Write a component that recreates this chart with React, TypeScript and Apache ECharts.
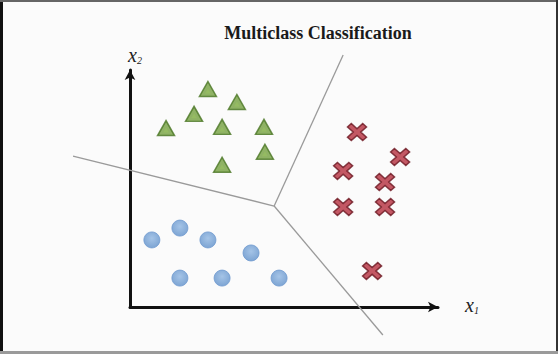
import React, { useEffect, useRef } from "react";
import * as echarts from "echarts";

// Class A (green triangles): [x1, x2]
const classTriangles: number[][] = [
  [2.53, 9.2],
  [3.47, 8.65],
  [2.08, 8.15],
  [1.17, 7.55],
  [2.99, 7.6],
  [4.35, 7.6],
  [4.38, 6.55],
  [2.99, 6.0],
];
// Class B (red crosses)
const classCrosses: number[][] = [
  [7.37, 7.38],
  [8.77, 6.33],
  [6.92, 5.74],
  [8.28, 5.27],
  [6.92, 4.22],
  [8.28, 4.22],
  [7.86, 1.52],
];
// Class C (blue circles)
const classCircles: number[][] = [
  [0.71, 2.83],
  [1.62, 3.33],
  [2.53, 2.83],
  [3.93, 2.28],
  [1.62, 1.22],
  [2.99, 1.22],
  [4.84, 1.22],
];
// Decision boundaries meeting at a junction
const junction: number[] = [4.68, 4.26];
const boundaryEnds: number[][] = [
  [-1.85, 6.37],
  [6.92, 10.63],
  [8.21, -1.18],
];

const titleText = "Multiclass Classification";
const xName = "{v|x}{s|1}";
const yName = "{v|x}{s|2}";

const crossPath =
  "path://M2,0 L5,3 L8,0 L10,2 L7,5 L10,8 L8,10 L5,7 L2,10 L0,8 L3,5 L0,2 Z";

export default function App() {
  const ref = useRef<HTMLDivElement>(null);
  useEffect(() => {
    document.body.style.margin = "0";
    if (!ref.current) return;
    const chart = echarts.init(ref.current, undefined, { renderer: "svg" });
    const nameRich = {
      v: {
        fontFamily: "Liberation Serif",
        fontStyle: "italic",
        fontSize: 20,
        color: "#222",
      },
      s: {
        fontFamily: "Liberation Serif",
        fontStyle: "italic",
        fontSize: 10,
        color: "#222",
        verticalAlign: "bottom",
        padding: [8, 0, 0, 0],
      },
    };
    const boundaryData = boundaryEnds.map((e) => [junction[0], junction[1], e[0], e[1]]);
    chart.setOption({
      animation: false,
      backgroundColor: "#fbfbfb",
      title: {
        text: titleText,
        left: 313,
        top: 19,
        textAlign: "center",
        textStyle: {
          fontFamily: "Liberation Serif",
          fontWeight: "bold",
          fontSize: 18,
          color: "#1a1a1a",
        },
      },
      grid: { left: 130, top: 70, width: 308, height: 237 },
      xAxis: {
        type: "value",
        min: 0,
        max: 10,
        name: xName,
        nameLocation: "end",
        nameGap: 27,
        nameTextStyle: { rich: nameRich, padding: [0, 0, 4, 0] },
        axisLine: {
          show: true,
          onZero: false,
          symbol: ["none", "arrow"],
          symbolSize: [8, 10],
          lineStyle: { color: "#111", width: 3 },
        },
        axisTick: { show: false },
        axisLabel: { show: false },
        splitLine: { show: false },
      },
      yAxis: {
        type: "value",
        min: 0,
        max: 10,
        name: yName,
        nameLocation: "end",
        nameGap: 5,
        nameTextStyle: { rich: nameRich, padding: [0, 0, 0, 10] },
        axisLine: {
          show: true,
          onZero: false,
          symbol: ["none", "arrow"],
          symbolSize: [8, 10],
          lineStyle: { color: "#111", width: 3 },
        },
        axisTick: { show: false },
        axisLabel: { show: false },
        splitLine: { show: false },
      },
      graphic: [
        { type: "rect", shape: { x: 0, y: 0, width: 3, height: 354 }, style: { fill: "#111" }, z: 100 },
        { type: "rect", shape: { x: 0, y: 0, width: 558, height: 2 }, style: { fill: "#666" }, z: 100 },
        { type: "rect", shape: { x: 556, y: 0, width: 2, height: 354 }, style: { fill: "#333" }, z: 100 },
        { type: "rect", shape: { x: 0, y: 351, width: 558, height: 3 }, style: { fill: "#9a9a9a" }, z: 100 },
      ],
      series: [
        {
          type: "custom",
          data: boundaryData,
          clip: false,
          silent: true,
          z: 1,
          renderItem: (params: any, api: any) => {
            const p1 = api.coord([api.value(0), api.value(1)]);
            const p2 = api.coord([api.value(2), api.value(3)]);
            return {
              type: "line",
              shape: { x1: p1[0], y1: p1[1], x2: p2[0], y2: p2[1] },
              style: { stroke: "#9a9a9a", lineWidth: 1.3 },
            };
          },
        },
        {
          type: "scatter",
          data: classTriangles,
          symbol: "triangle",
          symbolSize: [17, 15],
          z: 3,
          itemStyle: {
            color: "#74a040",
            borderColor: "#4a7624",
            borderWidth: 1.5,
          },
        },
        {
          type: "scatter",
          data: classTriangles,
          symbol: "triangle",
          symbolSize: [6, 5],
          symbolOffset: [0, 2],
          z: 4,
          silent: true,
          itemStyle: { color: "#96bd62" },
        },
        {
          type: "scatter",
          data: classCrosses,
          symbol: crossPath,
          symbolSize: [19, 17],
          z: 3,
          itemStyle: {
            color: "#b52f3e",
            borderColor: "#6b1620",
            borderWidth: 1.5,
          },
        },
        {
          type: "scatter",
          data: classCircles,
          symbol: "circle",
          symbolSize: 16,
          z: 3,
          itemStyle: {
            color: {
              type: "radial",
              x: 0.5,
              y: 0.4,
              r: 0.6,
              colorStops: [
                { offset: 0, color: "#8fb6e2" },
                { offset: 1, color: "#5e8fc9" },
              ],
            },
            borderColor: "#6f9ad0",
            borderWidth: 1,
          },
        },
      ],
    });
    return () => chart.dispose();
  }, []);
  return <div ref={ref} style={{ width: 558, height: 354 }} />;
}
